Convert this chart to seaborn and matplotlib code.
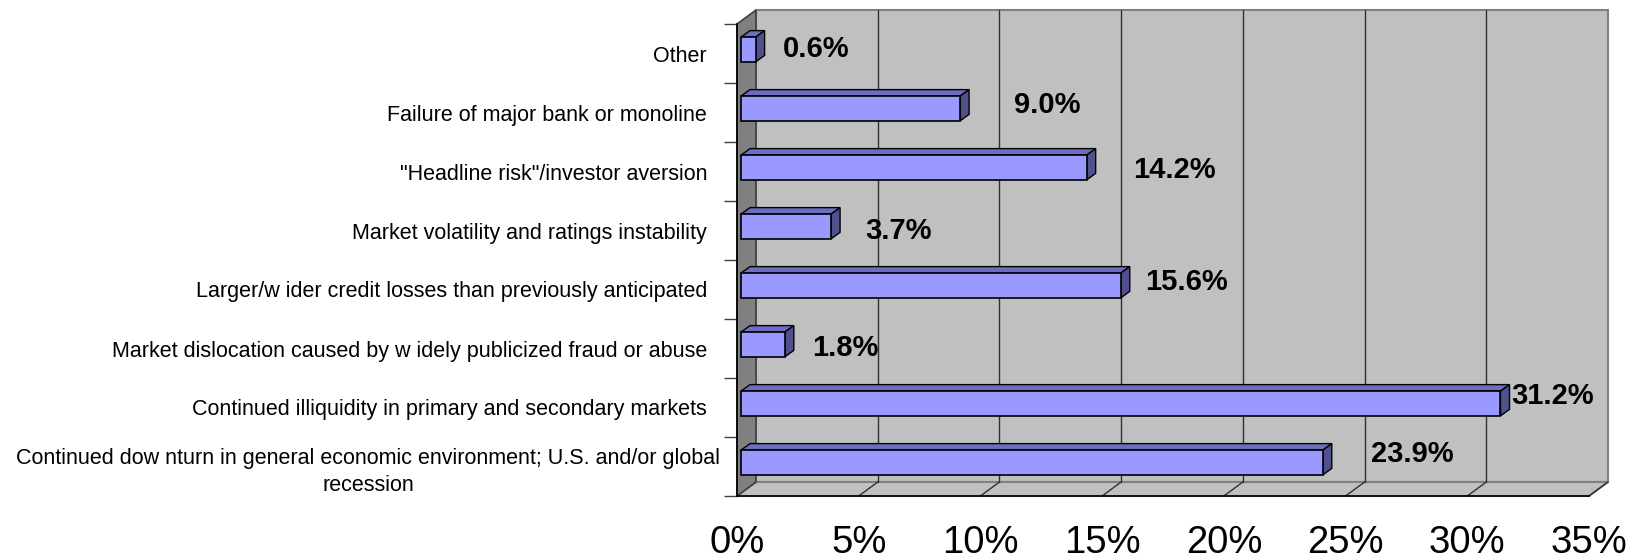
import matplotlib
matplotlib.use("Agg")
import matplotlib.pyplot as plt
from matplotlib.patches import Polygon, Rectangle
from matplotlib.transforms import Affine2D
import seaborn as sns
import pandas as pd

# survey answers, top to bottom as in the chart
categories = [
    "Other",
    "Failure of major bank or monoline",
    "\"Headline risk\"/investor aversion",
    "Market volatility and ratings instability",
    "Larger/w ider credit losses than previously anticipated",
    "Market dislocation caused by w idely publicized fraud or abuse",
    "Continued illiquidity in primary and secondary markets",
    "Continued dow nturn in general economic environment; U.S. and/or global\nrecession",
]
values = [0.6, 9.0, 14.2, 3.7, 15.6, 1.8, 31.2, 23.9]
xticks = [0, 5, 10, 15, 20, 25, 30, 35]

# where excel dropped the value labels (pixels, relative to bar end / category centre)
label_dx = [31, 58, 50, 38, 28, 31, 15, 52]
label_dy = [4.5, 7.5, 1, -0.5, 8, 1, 11.5, 12]

sns.set_style("white")
plt.rcParams['font.family'] = ['Liberation Sans', 'DejaVu Sans']
plt.rcParams['text.color'] = 'black'
plt.rcParams['xtick.color'] = 'black'
plt.rcParams['ytick.color'] = 'black'

W, H = 1639, 560
fig = plt.figure(figsize=(W / 100, H / 100), dpi=100)
ax_l, ax_r, ax_t, ax_b = 737, 1589, 24, 496  # front plane in pixels
ax = fig.add_axes([ax_l / W, 1 - ax_b / H, (ax_r - ax_l) / W, (ax_b - ax_t) / H])
ax.patch.set_visible(False)

df = pd.DataFrame({'answer': categories, 'share': values})
sns.barplot(data=df, x='share', y='answer', orient='h', color='#9999FF',
            saturation=1, width=0.42, edgecolor='black', linewidth=1.2, ax=ax)
bars = list(ax.patches)

ax.set_xlim(0, 35)
ax.set_ylim(len(categories) - 0.5, -0.5)

# 3d depth of the walls, in axes fraction
DX = 19 / (ax_r - ax_l)
DY = 14 / (ax_b - ax_t)
wall_grey = '#C0C0C0'
edge_grey = '#808080'

back = Rectangle((DX, DY), 1, 1, transform=ax.transAxes, facecolor=wall_grey,
                 edgecolor=edge_grey, lw=1.5, clip_on=False, zorder=0.1)
ax.add_patch(back)
floor = Polygon([(0, 0), (1, 0), (1 + DX, DY), (DX, DY)], closed=True,
                transform=ax.transAxes, facecolor=wall_grey, edgecolor=edge_grey,
                lw=1.5, clip_on=False, zorder=0.2)
ax.add_patch(floor)
left = Polygon([(0, 0), (0, 1), (DX, 1 + DY), (DX, DY)], closed=True,
               transform=ax.transAxes, facecolor=edge_grey, edgecolor='#404040',
               lw=1.2, clip_on=False, zorder=0.3)
ax.add_patch(left)

# gridlines on back wall and floor
dx_data = DX * 35
tr = ax.get_xaxis_transform()
for t in xticks[1:-1]:
    ax.plot([t + dx_data, t + dx_data], [DY, 1 + DY], color='#303030', lw=1,
            transform=tr, clip_on=False, zorder=0.5)
for t in xticks[1:]:
    ax.plot([t, t + dx_data], [0, DY], color='#303030', lw=1,
            transform=tr, clip_on=False, zorder=0.5)

# bars sit slightly inside the box; add top and side faces
shift = Affine2D().translate(4, 4)
px_x = (ax_r - ax_l) / 35
px_y = (ax_b - ax_t) / len(categories)
bdx = 9 / px_x
bdy = 6.5 / px_y
for p in bars:
    p.set_transform(ax.transData + shift)
    p.set_zorder(1.2)
    x0, y0 = p.get_x(), p.get_y()
    w, h = p.get_width(), p.get_height()
    ytop = min(y0, y0 + h)
    ybot = max(y0, y0 + h)
    x1 = x0 + w
    top = Polygon([(x0, ytop), (x1, ytop), (x1 + bdx, ytop - bdy), (x0 + bdx, ytop - bdy)],
                  closed=True, facecolor='#6E6EC0', edgecolor='black', lw=1,
                  transform=ax.transData + shift, clip_on=False, zorder=1.1)
    side = Polygon([(x1, ytop), (x1 + bdx, ytop - bdy), (x1 + bdx, ybot - bdy), (x1, ybot)],
                   closed=True, facecolor='#50508C', edgecolor='black', lw=1,
                   transform=ax.transData + shift, clip_on=False, zorder=1.1)
    ax.add_patch(top)
    ax.add_patch(side)

for i, v in enumerate(values):
    ax.annotate(f"{v:.1f}%", xy=(v, i), xytext=(label_dx[i], label_dy[i]),
                textcoords='offset pixels', ha='left', va='center',
                fontsize=21, fontweight='bold', color='black', zorder=3,
                annotation_clip=False)

# spines: only front left and bottom edges are black
for s in ['top', 'right']:
    ax.spines[s].set_visible(False)
for s in ['left', 'bottom']:
    ax.spines[s].set_color('black')
    ax.spines[s].set_linewidth(1.2)
    ax.spines[s].set_zorder(2)

ax.set_xticks(xticks)
ax.set_xticklabels([f"{t}%" for t in xticks])
ax.tick_params(axis='x', direction='out', length=8.6, width=1, color='black',
               labelsize=27.5, pad=12)
ax.set_yticks(range(len(categories)))
ax.set_yticks([i - 0.5 for i in range(len(categories) + 1)], minor=True)
ax.tick_params(axis='y', which='major', length=0, pad=21.6, labelsize=15.5)
ax.tick_params(axis='y', which='minor', direction='out', length=9.4, width=1,
               color='#404040', left=True)
ax.set_xlabel('')
ax.set_ylabel('')
ax.grid(False)

last = ax.get_yticklabels()[-1]
last.set_multialignment('center')
last.set_linespacing(1.35)
last.set_transform(last.get_transform() + Affine2D().translate(13, 0))

fig.savefig('out.png', dpi=100)
